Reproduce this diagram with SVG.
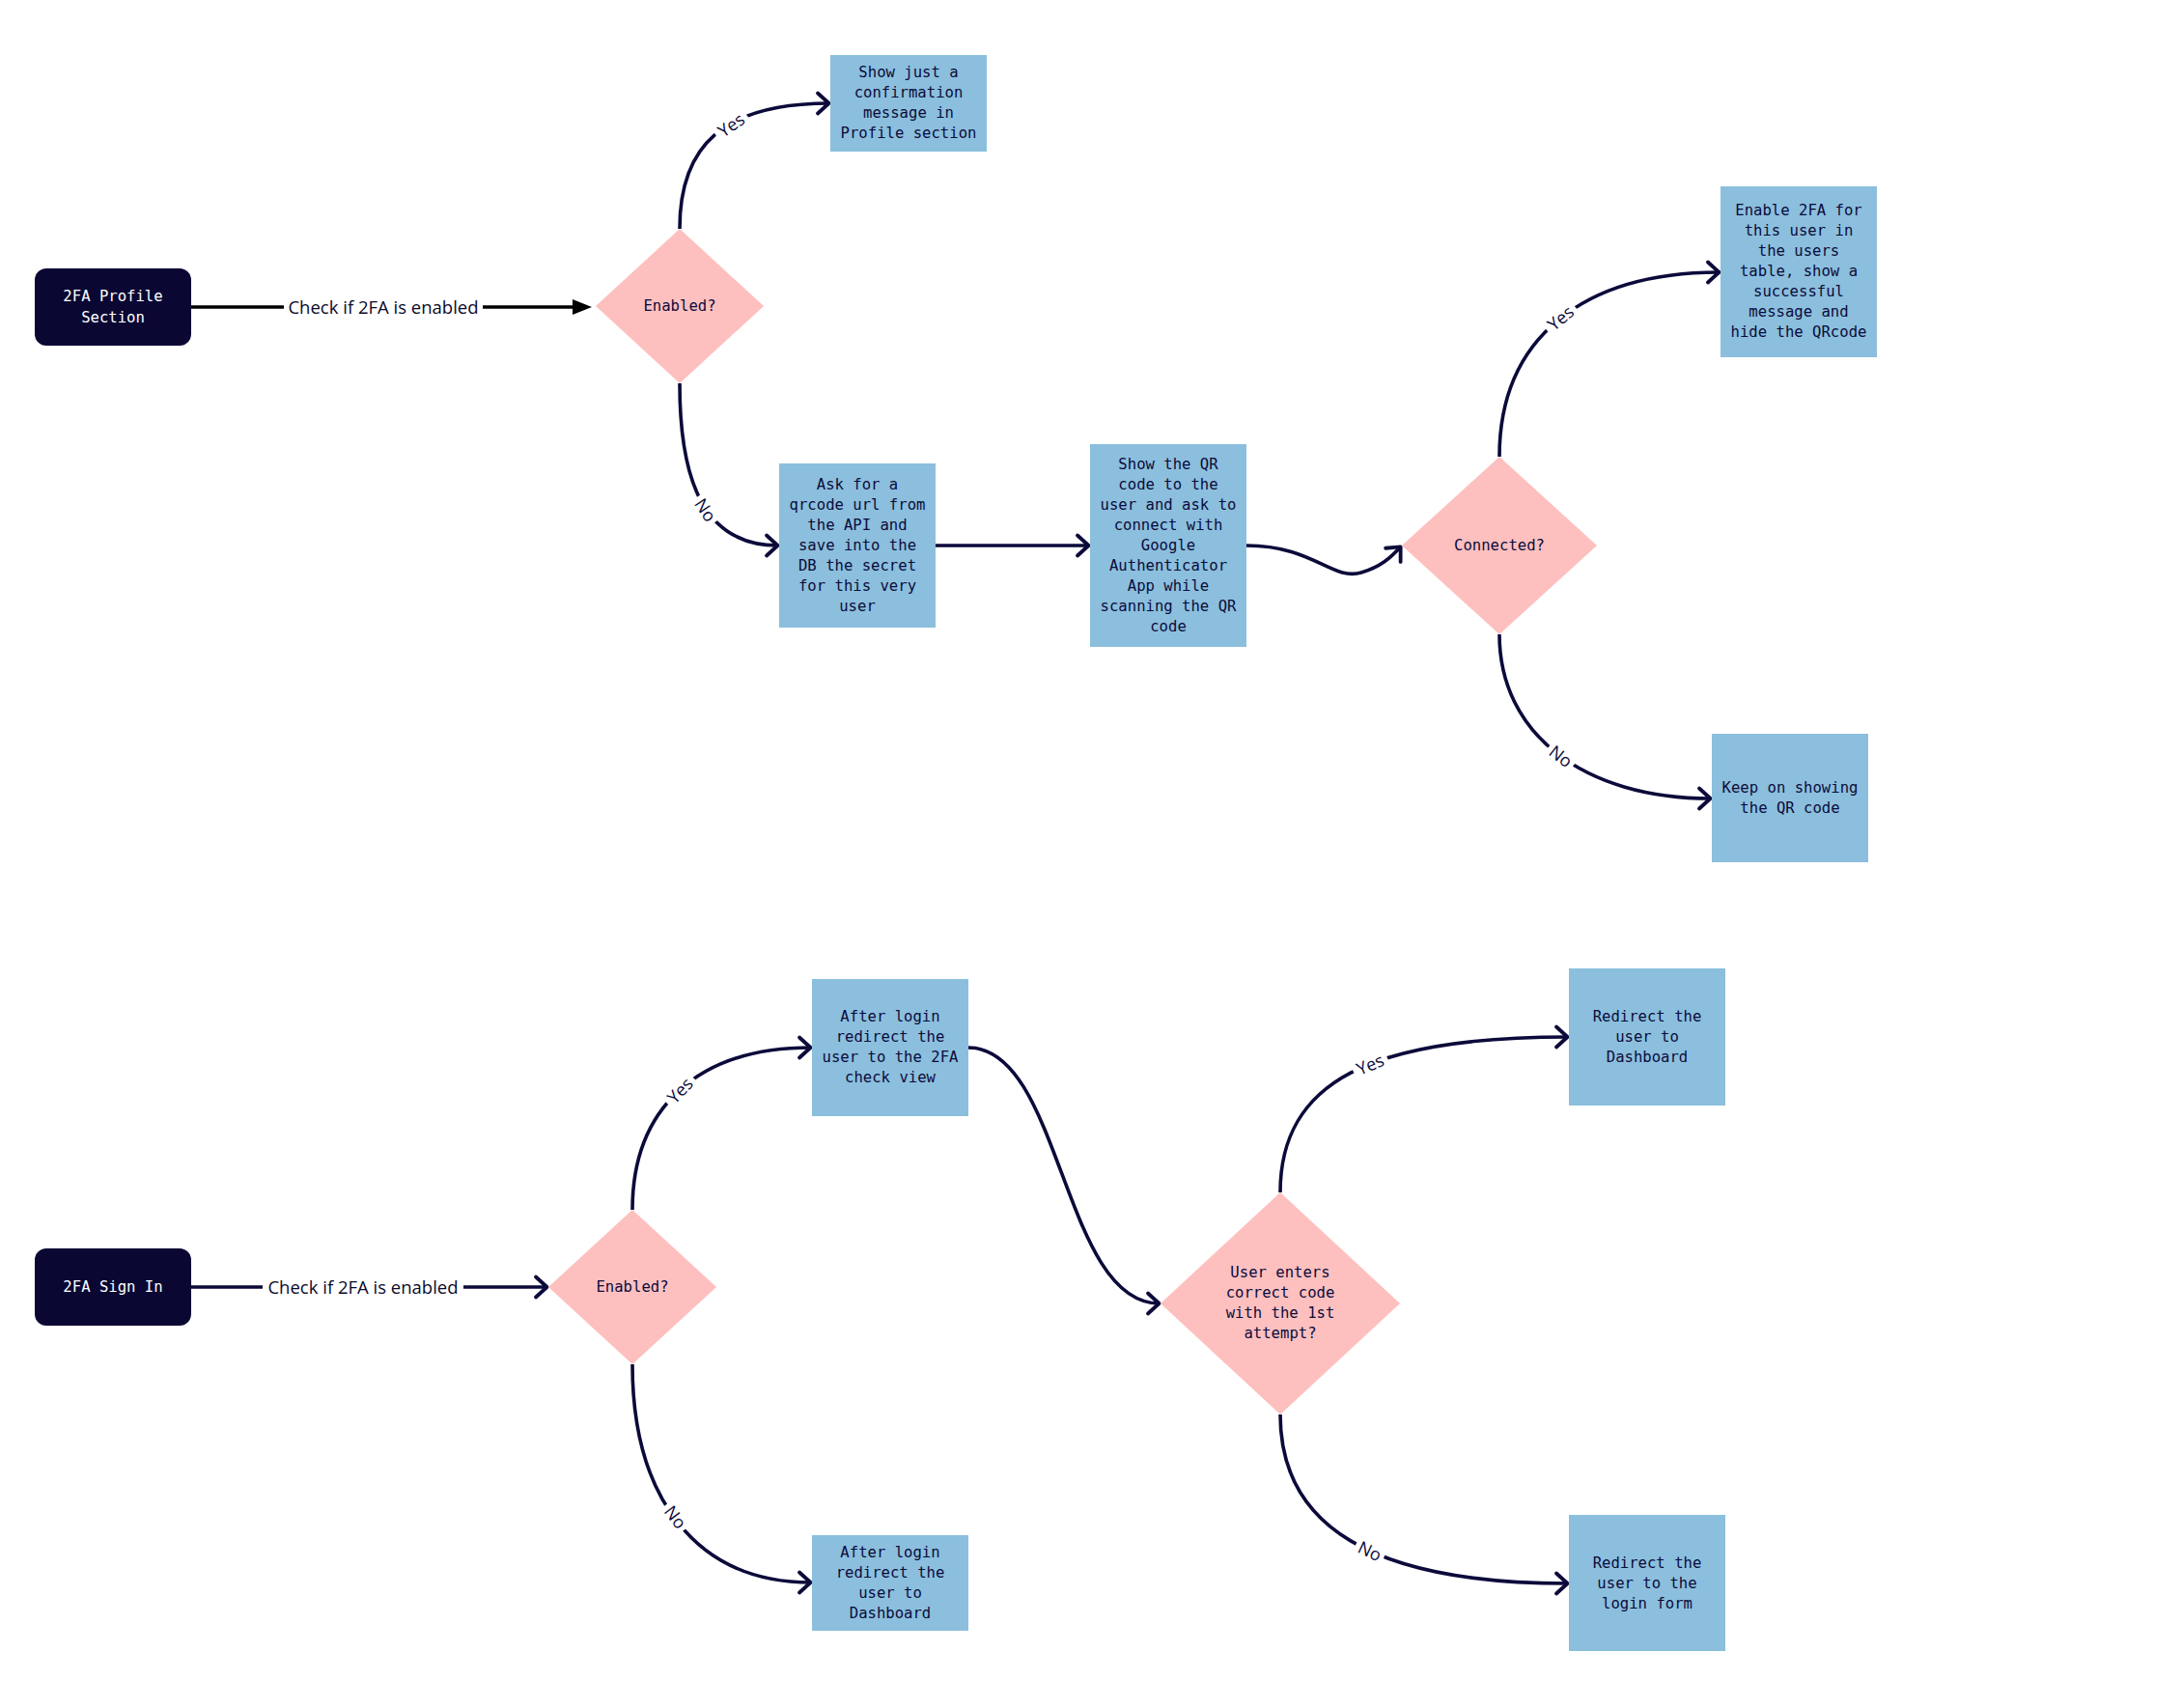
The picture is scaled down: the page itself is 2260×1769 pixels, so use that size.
<svg xmlns="http://www.w3.org/2000/svg" width="2260" height="1769" viewBox="0 0 2260 1769">
<style>
.start{fill:#0a0733}
.box{fill:#8bbfdd}
.dia{fill:#fdc0bf}
.mono{font-family:"DejaVu Sans Mono","Liberation Mono",monospace;font-size:15.6px;fill:#0b0b3b;text-anchor:middle;dominant-baseline:central}
.wmono{font-family:"DejaVu Sans Mono","Liberation Mono",monospace;font-size:15.6px;fill:#ffffff;text-anchor:middle;dominant-baseline:central}
.lbl{font-family:"Open Sans","Noto Sans","Liberation Sans",sans-serif;font-size:18.5px;fill:#0b0a2a;text-anchor:middle;dominant-baseline:central}
.yn{font-family:"Open Sans","Noto Sans","Liberation Sans",sans-serif;font-size:18px;fill:#0b0a3a;text-anchor:middle;dominant-baseline:central}
.edge{fill:none;stroke:#0b0a3a;stroke-width:3.6}
.edgeb{fill:none;stroke:#000000;stroke-width:3.4}
.bg{fill:#ffffff}
</style>
<defs>
<marker id="chev" markerUnits="userSpaceOnUse" viewBox="-16 -14 20 28" markerWidth="20" markerHeight="28" refX="0" refY="0" orient="auto" overflow="visible">
<path d="M-12,-10.5 L-0.5,0 L-12,10.5" fill="none" stroke="#0b0a3a" stroke-width="3.8" stroke-linecap="round" stroke-linejoin="round"/>
</marker>
<marker id="tri" markerUnits="userSpaceOnUse" viewBox="-22 -10 24 20" markerWidth="24" markerHeight="20" refX="-12" refY="0" orient="auto" overflow="visible">
<path d="M-20,-8 L0,0 L-20,8 Z" fill="#000000"/>
</marker>
</defs>
<rect x="0" y="0" width="2260" height="1769" fill="#ffffff"/>

<g id="connectors">
<path class="edgeb" d="M198,318 L601,318" marker-end="url(#tri)"/>
<path class="edge" d="M704,237 C704,150 750,107 859,107" marker-end="url(#chev)"/>
<path class="edge" d="M704,397 C704,500 730,565 806,565" marker-end="url(#chev)"/>
<path class="edge" d="M969,565 L1128,565" marker-end="url(#chev)"/>
<path class="edge" d="M1291,565 C1360,565 1380,602 1410,593 C1430,587 1440,578 1451,566" marker-end="url(#chev)"/>
<path class="edge" d="M1553,473 C1553,350 1640,282 1781,282" marker-end="url(#chev)"/>
<path class="edge" d="M1553,657 C1553,760 1640,827 1772,827" marker-end="url(#chev)"/>
<path class="edge" d="M198,1333 L567,1333" marker-end="url(#chev)"/>
<path class="edge" d="M655,1253 C655,1150 720,1085 840,1085" marker-end="url(#chev)"/>
<path class="edge" d="M655,1413 C655,1550 720,1639 840,1639" marker-end="url(#chev)"/>
<path class="edge" d="M1003,1085 C1100,1085 1100,1350 1201,1350" marker-end="url(#chev)"/>
<path class="edge" d="M1326,1235 C1326,1120 1420,1074 1624,1074" marker-end="url(#chev)"/>
<path class="edge" d="M1326,1465 C1326,1580 1420,1640 1624,1640" marker-end="url(#chev)"/>

<rect class="bg" x="294" y="305" width="206" height="26"/>
<text class="lbl" x="397" y="317" fill="#000">Check if 2FA is enabled</text>
<rect class="bg" x="272" y="1320" width="208" height="26"/>
<text class="lbl" x="376" y="1332">Check if 2FA is enabled</text>

<g transform="translate(757,129) rotate(-35)"><rect class="bg" x="-19" y="-11" width="38" height="22"/><text class="yn" x="0" y="0">Yes</text></g>
<g transform="translate(731,528) rotate(56)"><rect class="bg" x="-16" y="-11" width="32" height="22"/><text class="yn" x="0" y="0">No</text></g>
<g transform="translate(1616,329) rotate(-40)"><rect class="bg" x="-19" y="-11" width="38" height="22"/><text class="yn" x="0" y="0">Yes</text></g>
<g transform="translate(1617,783) rotate(38)"><rect class="bg" x="-16" y="-11" width="32" height="22"/><text class="yn" x="0" y="0">No</text></g>
<g transform="translate(704,1129) rotate(-46)"><rect class="bg" x="-19" y="-11" width="38" height="22"/><text class="yn" x="0" y="0">Yes</text></g>
<g transform="translate(700,1571) rotate(53)"><rect class="bg" x="-16" y="-11" width="32" height="22"/><text class="yn" x="0" y="0">No</text></g>
<g transform="translate(1419,1102) rotate(-23)"><rect class="bg" x="-19" y="-11" width="38" height="22"/><text class="yn" x="0" y="0">Yes</text></g>
<g transform="translate(1419,1606) rotate(25)"><rect class="bg" x="-16" y="-11" width="32" height="22"/><text class="yn" x="0" y="0">No</text></g>
</g>

<g id="node-profile-section">
<rect class="start" x="36" y="278" width="162" height="80" rx="12"/>
<text class="wmono"><tspan x="117" y="307">2FA Profile</tspan><tspan x="117" y="329">Section</tspan></text>
</g>

<g id="node-enabled-1">
<polygon class="dia" points="704,237 791,317 704,397 617,317"/>
<text class="mono" x="704" y="317">Enabled?</text>
</g>

<g id="node-confirmation">
<rect class="box" x="860" y="57" width="162" height="100"/>
<text class="mono"><tspan x="941" y="75">Show just a</tspan><tspan x="941" y="96">confirmation</tspan><tspan x="941" y="117">message in</tspan><tspan x="941" y="138">Profile section</tspan></text>
</g>

<g id="node-ask-qrcode">
<rect class="box" x="807" y="480" width="162" height="170"/>
<text class="mono"><tspan x="888" y="502">Ask for a</tspan><tspan x="888" y="523">qrcode url from</tspan><tspan x="888" y="544">the API and</tspan><tspan x="888" y="565">save into the</tspan><tspan x="888" y="586">DB the secret</tspan><tspan x="888" y="607">for this very</tspan><tspan x="888" y="628">user</tspan></text>
</g>

<g id="node-show-qr">
<rect class="box" x="1129" y="460" width="162" height="210"/>
<text class="mono"><tspan x="1210" y="481">Show the QR</tspan><tspan x="1210" y="502">code to the</tspan><tspan x="1210" y="523">user and ask to</tspan><tspan x="1210" y="544">connect with</tspan><tspan x="1210" y="565">Google</tspan><tspan x="1210" y="586">Authenticator</tspan><tspan x="1210" y="607">App while</tspan><tspan x="1210" y="628">scanning the QR</tspan><tspan x="1210" y="649">code</tspan></text>
</g>

<g id="node-connected">
<polygon class="dia" points="1553,473 1654,565 1553,657 1452,565"/>
<text class="mono" x="1553" y="565">Connected?</text>
</g>

<g id="node-enable-2fa">
<rect class="box" x="1782" y="193" width="162" height="177"/>
<text class="mono"><tspan x="1863" y="218">Enable 2FA for</tspan><tspan x="1863" y="239">this user in</tspan><tspan x="1863" y="260">the users</tspan><tspan x="1863" y="281">table, show a</tspan><tspan x="1863" y="302">successful</tspan><tspan x="1863" y="323">message and</tspan><tspan x="1863" y="344">hide the QRcode</tspan></text>
</g>

<g id="node-keep-showing">
<rect class="box" x="1773" y="760" width="162" height="133"/>
<text class="mono"><tspan x="1854" y="816">Keep on showing</tspan><tspan x="1854" y="837">the QR code</tspan></text>
</g>

<g id="node-sign-in">
<rect class="start" x="36" y="1293" width="162" height="80" rx="12"/>
<text class="wmono" x="117" y="1333">2FA Sign In</text>
</g>

<g id="node-enabled-2">
<polygon class="dia" points="655,1253 742,1333 655,1413 568,1333"/>
<text class="mono" x="655" y="1333">Enabled?</text>
</g>

<g id="node-after-login-2fa">
<rect class="box" x="841" y="1014" width="162" height="142"/>
<text class="mono"><tspan x="922" y="1053">After login</tspan><tspan x="922" y="1074">redirect the</tspan><tspan x="922" y="1095">user to the 2FA</tspan><tspan x="922" y="1116">check view</tspan></text>
</g>

<g id="node-after-login-dashboard">
<rect class="box" x="841" y="1590" width="162" height="99"/>
<text class="mono"><tspan x="922" y="1608">After login</tspan><tspan x="922" y="1629">redirect the</tspan><tspan x="922" y="1650">user to</tspan><tspan x="922" y="1671">Dashboard</tspan></text>
</g>

<g id="node-correct-code">
<polygon class="dia" points="1326,1235 1450,1350 1326,1465 1202,1350"/>
<text class="mono"><tspan x="1326" y="1318">User enters</tspan><tspan x="1326" y="1339">correct code</tspan><tspan x="1326" y="1360">with the 1st</tspan><tspan x="1326" y="1381">attempt?</tspan></text>
</g>

<g id="node-redirect-dashboard">
<rect class="box" x="1625" y="1003" width="162" height="142"/>
<text class="mono"><tspan x="1706" y="1053">Redirect the</tspan><tspan x="1706" y="1074">user to</tspan><tspan x="1706" y="1095">Dashboard</tspan></text>
</g>

<g id="node-redirect-login">
<rect class="box" x="1625" y="1569" width="162" height="141"/>
<text class="mono"><tspan x="1706" y="1619">Redirect the</tspan><tspan x="1706" y="1640">user to the</tspan><tspan x="1706" y="1661">login form</tspan></text>
</g>
</svg>
